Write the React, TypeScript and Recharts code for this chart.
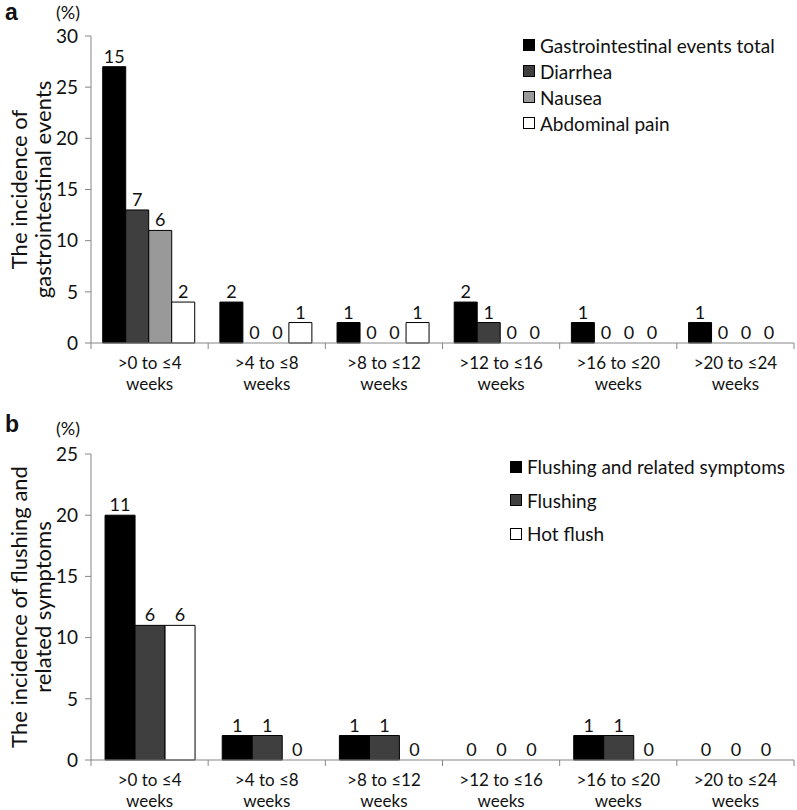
import * as React from "react"
import { BarChart, Bar, XAxis, YAxis, LabelList, Rectangle } from "recharts"

// shared x categories
const CATEGORIES = [">0 to ≤4 weeks", ">4 to ≤8 weeks", ">8 to ≤12 weeks", ">12 to ≤16 weeks", ">16 to ≤20 weeks", ">20 to ≤24 weeks"]

// panel a: incidence (%) and patient counts
const GI_TOTAL_PCT = [27, 4, 2, 4, 2, 2]
const DIARRHEA_PCT = [13, 0, 0, 2, 0, 0]
const NAUSEA_PCT = [11, 0, 0, 0, 0, 0]
const ABDOMINAL_PCT = [4, 2, 2, 0, 0, 0]
const GI_TOTAL_N = [15, 2, 1, 2, 1, 1]
const DIARRHEA_N = [7, 0, 0, 1, 0, 0]
const NAUSEA_N = [6, 0, 0, 0, 0, 0]
const ABDOMINAL_N = [2, 1, 1, 0, 0, 0]
const TICKS_A = [0, 5, 10, 15, 20, 25, 30]

// panel b
const FLUSH_REL_PCT = [20, 2, 2, 0, 2, 0]
const FLUSHING_PCT = [11, 2, 2, 0, 2, 0]
const HOT_FLUSH_PCT = [11, 0, 0, 0, 0, 0]
const FLUSH_REL_N = [11, 1, 1, 0, 1, 0]
const FLUSHING_N = [6, 1, 1, 0, 1, 0]
const HOT_FLUSH_N = [6, 0, 0, 0, 0, 0]
const TICKS_B = [0, 5, 10, 15, 20, 25]

const SERIES_A = [
  { key: "total", name: "Gastrointestinal events total", fill: "#000000", pct: GI_TOTAL_PCT, n: GI_TOTAL_N },
  { key: "diarrhea", name: "Diarrhea", fill: "#3f3f3f", pct: DIARRHEA_PCT, n: DIARRHEA_N },
  { key: "nausea", name: "Nausea", fill: "#999999", pct: NAUSEA_PCT, n: NAUSEA_N },
  { key: "abdominal", name: "Abdominal pain", fill: "#ffffff", pct: ABDOMINAL_PCT, n: ABDOMINAL_N },
]
const SERIES_B = [
  { key: "flushRel", name: "Flushing and related symptoms", fill: "#000000", pct: FLUSH_REL_PCT, n: FLUSH_REL_N },
  { key: "flushing", name: "Flushing", fill: "#3f3f3f", pct: FLUSHING_PCT, n: FLUSHING_N },
  { key: "hotFlush", name: "Hot flush", fill: "#ffffff", pct: HOT_FLUSH_PCT, n: HOT_FLUSH_N },
]

type Series = typeof SERIES_A

function buildRows(series: Series) {
  return CATEGORIES.map((cat, i) => {
    const row: Record<string, string | number> = { cat }
    series.forEach((s) => {
      row[s.key] = s.pct[i]
      row[s.key + "N"] = s.n[i]
    })
    return row
  })
}

const FONT = "Lato, 'Open Sans', sans-serif"
const TEXT = "#111"
const AXIS = "#868686"
const W = 797
const Y_AXIS_W = 91
const RIGHT = 3
const BAND = (W - Y_AXIS_W - RIGHT) / CATEGORIES.length

function WeekTick(props: any) {
  const { x, y, payload, index } = props
  const label: string = payload.value
  const cut = label.lastIndexOf(" ")
  const last = index === CATEGORIES.length - 1
  return (
    <g>
      <line x1={x - BAND / 2} x2={x - BAND / 2} y1={y} y2={y + 6} stroke={AXIS} />
      {last && <line x1={x + BAND / 2} x2={x + BAND / 2} y1={y} y2={y + 6} stroke={AXIS} />}
      <text x={x} y={y + 26} textAnchor="middle" fontSize={17} fill={TEXT} fontFamily={FONT}>
        {label.slice(0, cut)}
      </text>
      <text x={x} y={y + 47} textAnchor="middle" fontSize={17} fill={TEXT} fontFamily={FONT}>
        {label.slice(cut + 1)}
      </text>
    </g>
  )
}

// zero-value bars get a hair-thin height so their "0" label is kept, but draw nothing
function BarShape(props: any) {
  if (props.height < 0.5) return <g />
  return <Rectangle {...props} />
}

function Panel(props: {
  letter: string
  series: Series
  ticks: number[]
  height: number
  top: number
  xAxisH: number
  gap: string
  title: string[]
  legendLeft: number
  legendTop: number
  legendRow: number
  letterY: number
  pctY: number
}) {
  const { series, ticks, height, top, xAxisH } = props
  const data = buildRows(series)
  const plotMid = (top + height - xAxisH) / 2
  return (
    <div style={{ position: "relative", width: W, height }}>
      <BarChart
        width={W}
        height={height}
        data={data}
        margin={{ top, right: RIGHT, left: 0, bottom: 0 }}
        barCategoryGap={props.gap}
        barGap={0}
      >
        <XAxis
          dataKey="cat"
          height={xAxisH}
          stroke={AXIS}
          tickLine={false}
          tickSize={0}
          tickMargin={0}
          interval={0}
          tick={<WeekTick />}
        />
        <YAxis
          width={Y_AXIS_W}
          domain={[0, ticks[ticks.length - 1]]}
          ticks={ticks}
          interval={0}
          stroke={AXIS}
          tickSize={6}
          tickMargin={7}
          tick={{ fill: TEXT, fontSize: 19, fontFamily: FONT }}
        />
        {series.map((s) => (
          <Bar
            key={s.key}
            dataKey={s.key}
            name={s.name}
            fill={s.fill}
            stroke="#000"
            strokeWidth={1}
            minPointSize={0.01}
            shape={<BarShape />}
            isAnimationActive={false}
          >
            <LabelList dataKey={s.key + "N"} position="top" offset={4} fill={TEXT} fontSize={18} fontFamily={FONT} />
          </Bar>
        ))}
      </BarChart>
      <svg width={W} height={height} style={{ position: "absolute", left: 0, top: 0, pointerEvents: "none" }}>
        <text x={5} y={props.letterY} fontSize={23} fontWeight="bold" fill={TEXT} fontFamily="'Liberation Sans', Arial, sans-serif">
          {props.letter}
        </text>
        <text x={56} y={props.pctY} fontSize={18} fill={TEXT} fontFamily={FONT}>
          (%)
        </text>
        {props.title.map((line, i) => (
          <text
            key={i}
            x={27 + i * 24}
            y={plotMid}
            transform={`rotate(-90 ${27 + i * 24} ${plotMid})`}
            textAnchor="middle"
            fontSize={22}
            fill={TEXT}
            fontFamily={FONT}
          >
            {line}
          </text>
        ))}
      </svg>
      <div style={{ position: "absolute", left: props.legendLeft, top: props.legendTop, fontFamily: FONT, fontSize: 19, color: TEXT }}>
        {series.map((s) => (
          <div key={s.key} style={{ display: "flex", alignItems: "center", height: props.legendRow, whiteSpace: "nowrap" }}>
            <span style={{ width: 10, height: 10, background: s.fill, border: "1px solid #000", marginRight: 5 }} />
            <span>{s.name}</span>
          </div>
        ))}
      </div>
    </div>
  )
}

export default function App() {
  return (
    <div style={{ position: "absolute", left: 0, top: 0, width: W, height: 810, background: "#fff", fontFamily: FONT }}>
      <Panel
        letter="a"
        series={SERIES_A}
        ticks={TICKS_A}
        height={400}
        top={36}
        xAxisH={57}
        gap="10%"
        title={["The incidence of", "gastrointestinal events"]}
        legendLeft={523}
        legendTop={32}
        legendRow={26}
        letterY={20}
        pctY={19}
      />
      <Panel
        letter="b"
        series={SERIES_B}
        ticks={TICKS_B}
        height={410}
        top={54}
        xAxisH={50}
        gap="12%"
        title={["The incidence of flushing and", "related symptoms"]}
        legendLeft={510}
        legendTop={50}
        legendRow={33.5}
        letterY={32}
        pctY={35}
      />
    </div>
  )
}
